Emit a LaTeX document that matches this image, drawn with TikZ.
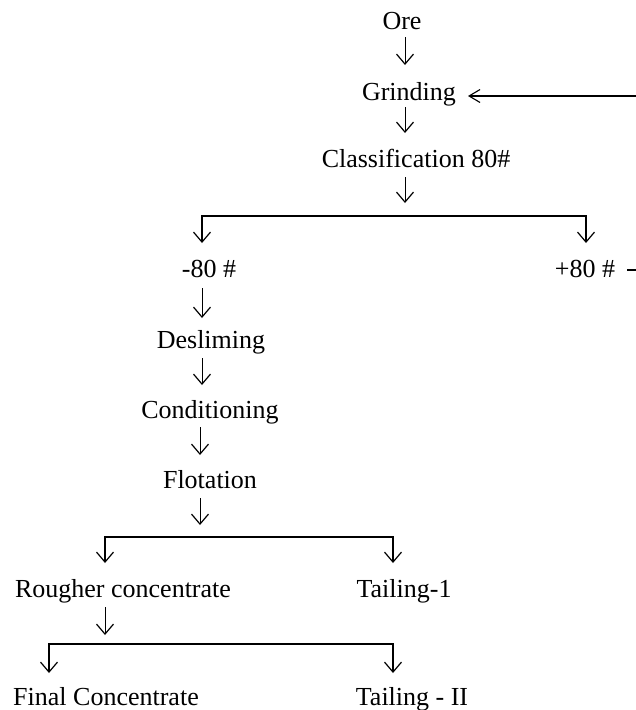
\documentclass[tikz,border=0pt]{standalone}
\usepackage{fontspec}
\setmainfont{Liberation Serif}
\usetikzlibrary{arrows.meta,calc}
\begin{document}
\begin{tikzpicture}[x=1pt,y=-1pt,
  lbl/.style={inner sep=0pt,anchor=base,font=\fontsize{26}{30}\selectfont},
  arr/.style={line width=1pt,-{Straight Barb[length=10pt,width=17pt,line width=1.2pt]}},
  brk/.style={line width=1.3pt,{Straight Barb[length=10pt,width=17pt,line width=1.2pt]}-{Straight Barb[length=10pt,width=17pt,line width=1.2pt]}},
  ret/.style={line width=1.2pt,-{Straight Barb[length=11pt,width=13pt,line width=1.1pt]}}]
\useasboundingbox (0,0) rectangle (636,710);
\node[lbl] (ore) at (402,29) {Ore};
\node[lbl] (grind) at (409,100) {Grinding};
\node[lbl] (cls) at (416,167) {Classification 80\#};
\node[lbl] (m80) at (209,277) {-80 \#};
\node[lbl] (p80) at (585,277) {+80 \#};
\node[lbl] (desl) at (211,348) {Desliming};
\node[lbl] (cond) at (210,418) {Conditioning};
\node[lbl] (flot) at (210,488) {Flotation};
\node[lbl] (rough) at (123,597) {Rougher concentrate};
\node[lbl] (tail1) at (404,597) {Tailing-1};
\node[lbl] (final) at (106,705) {Final Concentrate};
\node[lbl] (tail2) at (412,705) {Tailing - II};
\coordinate (j1) at (405,216);
\coordinate (j2) at (200,537);
\coordinate (j3) at (105,644);
\coordinate (r1) at (636,96);
\coordinate (r2) at (636,270);
% vertical arrows
\draw[arr] ($(ore.base)+(3,8)$) -- ($(grind.base)+(-4,-35)$);
\draw[arr] ($(grind.base)+(-4,7)$) -- ($(cls.base)+(-11,-34)$);
\draw[arr] ($(cls.base)+(-11,10)$) -- ($(j1)+(0,-13)$);
\draw[arr] ($(m80.base)+(-7,11)$) -- ($(desl.base)+(-9,-30)$);
\draw[arr] ($(desl.base)+(-9,10)$) -- ($(cond.base)+(-8,-33)$);
\draw[arr] ($(cond.base)+(-10,9)$) -- ($(flot.base)+(-10,-33)$);
\draw[arr] ($(flot.base)+(-10,10)$) -- ($(j2)+(0,-12)$);
\draw[arr] ($(rough.base)+(-18,10)$) -- ($(j3)+(0,-9)$);
% brackets
\draw[brk] ($(m80.base)+(-7,-34)$) -- ($(m80.base)+(-7,-61)$) -- ($(p80.base)+(1,-61)$) -- ($(p80.base)+(1,-34)$);
\draw[brk] ($(rough.base)+(-18,-34)$) -- ($(rough.base)+(-18,-60)$) -- ($(tail1.base)+(-11,-60)$) -- ($(tail1.base)+(-11,-34)$);
\draw[brk] ($(final.base)+(-57,-32)$) -- ($(final.base)+(-57,-61)$) -- ($(tail2.base)+(-19,-61)$) -- ($(tail2.base)+(-19,-32)$);
% return line
\draw[ret] (r1) -- ($(grind.base)+(59,-4)$);
\draw[line width=1.2pt] ($(p80.base)+(42,-7)$) -- (r2);
\end{tikzpicture}
\end{document}
